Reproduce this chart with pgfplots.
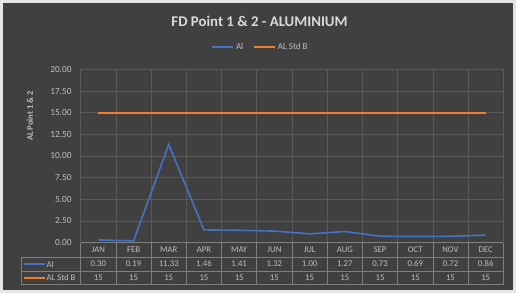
\documentclass[border=0pt]{standalone}
\usepackage{pgfplots}
\usepackage{pgfplotstable}
\pgfplotsset{compat=1.18}
\usepackage{fontspec}
\setmainfont{Carlito}
\definecolor{bgc}{HTML}{404040}
\definecolor{gridc}{HTML}{595959}
\definecolor{tabc}{HTML}{7F7F7F}
\definecolor{txtc}{HTML}{BFBFBF}
\definecolor{ttlc}{HTML}{D9D9D9}
\definecolor{bluc}{HTML}{4472C4}
\definecolor{orgc}{HTML}{ED7D31}
\pgfplotstableread{
x al std
0 0.30 15
1 0.19 15
2 11.33 15
3 1.46 15
4 1.41 15
5 1.32 15
6 1.00 15
7 1.27 15
8 0.73 15
9 0.69 15
10 0.72 15
11 0.86 15
}\datatab
\begin{document}
\begin{tikzpicture}
\useasboundingbox (0pt,0pt) rectangle (516pt,293pt);
\fill[white!90!black] (0pt,0pt) rectangle (516pt,293pt);
\fill[bgc] (3pt,3pt) rectangle (513pt,290pt);
\node[font=\bfseries\fontsize{14.8}{16}\selectfont, text=ttlc] at (259.5pt,272pt) {FD Point 1 \& 2 - ALUMINIUM};
\begin{axis}[
  at={(80.7pt,50.5pt)}, anchor=south west,
  scale only axis, width=422.6pt, height=173pt,
  xmin=-0.5, xmax=11.5, ymin=0, ymax=20,
  clip=false,
  xtick={0,...,11},
  xticklabels={JAN,FEB,MAR,APR,MAY,JUN,JUL,AUG,SEP,OCT,NOV,DEC},
  minor xtick={-0.5,0.5,1.5,2.5,3.5,4.5,5.5,6.5,7.5,8.5,9.5,10.5,11.5},
  xminorgrids, ymajorgrids,
  ytick={0,2.5,5,7.5,10,12.5,15,17.5,20},
  tick style={draw=none},
  minor tick style={draw=none},
  grid style={gridc, line width=0.6pt},
  minor grid style={gridc, line width=0.6pt},
  axis line style={gridc, line width=0.6pt},
  /pgf/number format/assume math mode=true,
  yticklabel style={/pgf/number format/fixed, /pgf/number format/fixed zerofill, /pgf/number format/precision=2,
     font=\fontsize{9.3}{10}\selectfont, text=txtc, inner sep=0pt, anchor=east, xshift=-9pt},
  xticklabel style={font=\fontsize{8.7}{10}\selectfont, text=txtc, inner sep=0pt, anchor=center, yshift=-7.25pt},
  ylabel={AL Point 1 \& 2},
  ylabel style={at={(axis description cs:-0.12,0.731)}, anchor=center, rotate=0, font=\bfseries\fontsize{8.5}{10}\selectfont, text=txtc},
  legend columns=2,
  legend style={at={(axis description cs:0.4255,1.13)}, anchor=center, draw=none, fill=none,
     text=txtc, font=\fontsize{9}{10}\selectfont,
     /tikz/every even column/.append style={column sep=8pt}},
  legend image code/.code={\draw[#1] (0pt,0pt) -- (21pt,0pt);},
]
\addplot[color=bluc, line width=1.6pt] table[x=x, y=al] {\datatab};
\addlegendentry{Al}
\addplot[color=orgc, line width=1.6pt] table[x=x, y=std] {\datatab};
\addlegendentry{AL Std B}
\addplot[draw=none, forget plot, nodes near coords, point meta=explicit,
   nodes near coords style={anchor=center, font=\fontsize{8.7}{10}\selectfont, text=txtc, inner sep=0pt,
     /pgf/number format/fixed, /pgf/number format/fixed zerofill, /pgf/number format/precision=2}]
   table[x=x, y expr=-2.486, meta=al] {\datatab};
\addplot[draw=none, forget plot, nodes near coords, point meta=explicit,
   nodes near coords style={anchor=center, font=\fontsize{8.7}{10}\selectfont, text=txtc, inner sep=0pt,
     /pgf/number format/fixed, /pgf/number format/precision=0}]
   table[x=x, y expr=-4.075, meta=std] {\datatab};
\end{axis}
% data table grid
\foreach \yy in {36,22,8.5} \draw[tabc, line width=0.6pt] (21pt,\yy pt) -- (503.3pt,\yy pt);
\draw[tabc, line width=0.6pt] (21pt,8.5pt) -- (21pt,36pt);
\foreach \k in {0,...,12} \draw[tabc, line width=0.6pt] ({80.7pt+\k*35.2167pt},8.5pt) -- ({80.7pt+\k*35.2167pt},50.5pt);
\draw[tabc, line width=0.6pt] (80.7pt,50.5pt) -- (503.3pt,50.5pt);
\draw[bluc, line width=1.6pt] (23.5pt,29pt) -- (45pt,29pt);
\node[anchor=west, inner sep=0pt, text=txtc, font=\fontsize{8.7}{10}\selectfont] at (46.5pt,29pt) {Al};
\draw[orgc, line width=1.6pt] (23.5pt,15.25pt) -- (45pt,15.25pt);
\node[anchor=west, inner sep=0pt, text=txtc, font=\fontsize{8.7}{10}\selectfont] at (46.5pt,15.25pt) {AL Std B};
\end{tikzpicture}
\end{document}
